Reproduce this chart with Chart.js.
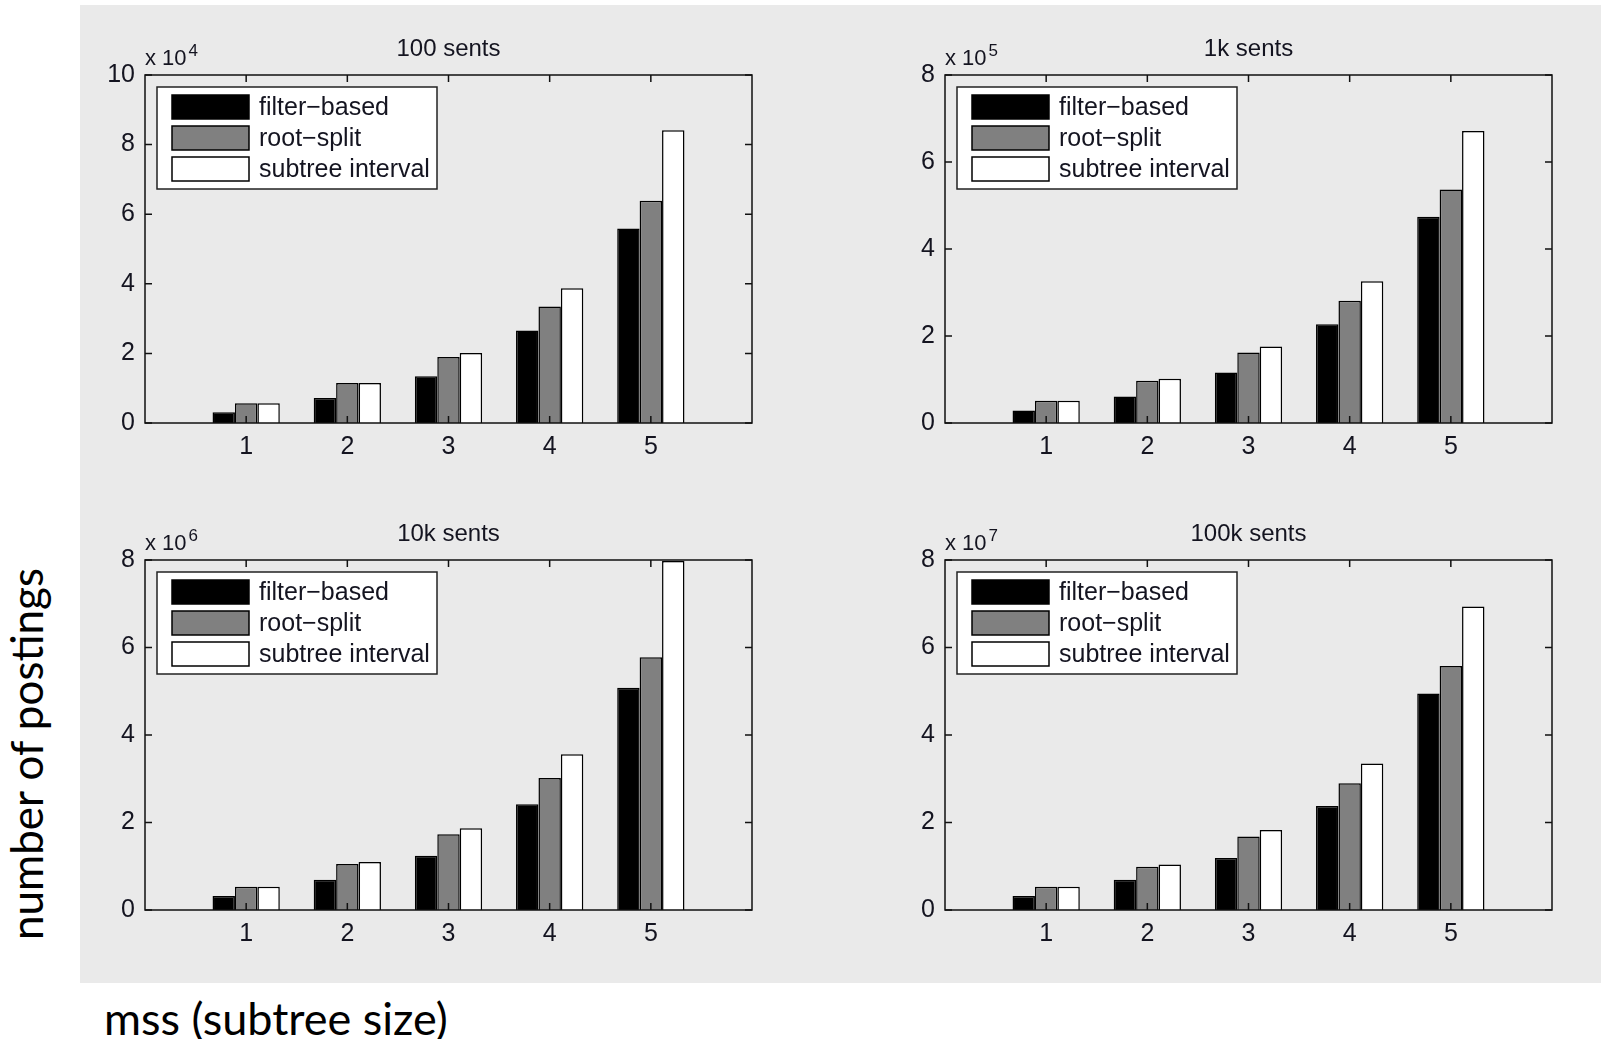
<!DOCTYPE html>
<html>
<head>
<meta charset="utf-8">
<script src="https://cdn.jsdelivr.net/npm/chart.js@4.4.1/dist/chart.umd.min.js"></script>
<style>
  html, body { margin: 0; padding: 0; background: #fff; }
  #page { position: relative; width: 1601px; height: 1039px; overflow: hidden; background: #fff; }
  #panel { position: absolute; left: 80px; top: 5px; width: 1521px; height: 978px; background: #eaeaea; }
  canvas { position: absolute; }
  .slide-label { position: absolute; font-family: Lato, sans-serif; font-size: 44px; line-height: 1; color: #000; white-space: nowrap; }
  #ylabel { left: -184px; top: 732px; width: 420px; height: 44px; text-align: center; transform: rotate(-90deg); }
  #xlabel { left: 104px; top: 996px; font-size: 45px; }
</style>
</head>
<body>
<div id="page">
  <div id="panel"></div>
  <canvas id="c100" width="697" height="478" style="left:75px;top:5px"></canvas>
  <canvas id="c1k" width="697" height="478" style="left:875px;top:5px"></canvas>
  <canvas id="c10k" width="697" height="480" style="left:75px;top:490px"></canvas>
  <canvas id="c100k" width="697" height="480" style="left:875px;top:490px"></canvas>
  <div class="slide-label" id="ylabel">number of postings</div>
  <div class="slide-label" id="xlabel">mss (subtree size)</div>
</div>
<script>
// mss values on the x axis
const categories = [1, 2, 3, 4, 5];
// matlab draws the hyphen as a minus sign
const seriesNames = ['filter\u2212based', 'root\u2212split', 'subtree interval'];
const seriesColors = ['#000000', '#808080', '#ffffff'];

// values in axis units (x 10^exp)
const filter100 = [0.31, 0.72, 1.34, 2.66, 5.59];
const root100 = [0.57, 1.15, 1.90, 3.35, 6.39];
const subtree100 = [0.57, 1.15, 2.01, 3.87, 8.41];

const filter1k = [0.29, 0.61, 1.16, 2.27, 4.74];
const root1k = [0.51, 0.97, 1.62, 2.81, 5.37];
const subtree1k = [0.51, 1.02, 1.76, 3.26, 6.71];

const filter10k = [0.32, 0.69, 1.24, 2.42, 5.08];
const root10k = [0.53, 1.05, 1.73, 3.02, 5.78];
const subtree10k = [0.53, 1.10, 1.87, 3.56, 7.98];

const filter100k = [0.32, 0.69, 1.19, 2.38, 4.95];
const root100k = [0.53, 0.99, 1.68, 2.90, 5.58];
const subtree100k = [0.53, 1.04, 1.83, 3.35, 6.94];

const titles = ['100 sents', '1k sents', '10k sents', '100k sents'];
const exponents = ['4', '5', '6', '7'];
const yMax = [10, 8, 8, 8];
const yStep = 2;

const textColor = '#141420';
const tickFont = { family: '"Liberation Sans", Arial, sans-serif', size: 25 };

// draws the matlab style box, inward ticks, title, exponent and legend
const matlabAxes = {
  id: 'matlabAxes',
  afterDatasetsDraw(chart, args, opts) {
    const { ctx, chartArea: a, scales: { x, y } } = chart;
    ctx.save();
    ctx.strokeStyle = '#111';
    ctx.lineWidth = 1.5;
    ctx.strokeRect(a.left, a.top, a.right - a.left, a.bottom - a.top);

    ctx.beginPath();
    categories.forEach((c, i) => {
      const px = x.getPixelForValue(i + 1);
      ctx.moveTo(px, a.bottom); ctx.lineTo(px, a.bottom - 7);
      ctx.moveTo(px, a.top); ctx.lineTo(px, a.top + 7);
    });
    y.ticks.forEach(t => {
      const py = y.getPixelForValue(t.value);
      ctx.moveTo(a.left, py); ctx.lineTo(a.left + 7, py);
      ctx.moveTo(a.right, py); ctx.lineTo(a.right - 7, py);
    });
    ctx.stroke();

    // title
    ctx.fillStyle = textColor;
    ctx.font = '24px "Liberation Sans", Arial, sans-serif';
    ctx.textAlign = 'center';
    ctx.textBaseline = 'middle';
    ctx.fillText(opts.title, (a.left + a.right) / 2, a.top - 26);

    // exponent
    ctx.textAlign = 'left';
    ctx.textBaseline = 'alphabetic';
    ctx.font = '22px "Liberation Sans", Arial, sans-serif';
    const base = 'x 10';
    ctx.fillText(base, a.left, a.top - 10);
    const w = ctx.measureText(base).width;
    ctx.font = '17px "Liberation Sans", Arial, sans-serif';
    ctx.fillText(opts.exponent, a.left + w + 2, a.top - 19);

    // legend box
    const lx = a.left + 12, ly = a.top + 12, lw = 280, lh = 102;
    ctx.fillStyle = '#fff';
    ctx.fillRect(lx, ly, lw, lh);
    ctx.strokeStyle = '#222';
    ctx.lineWidth = 1.5;
    ctx.strokeRect(lx, ly, lw, lh);
    ctx.font = '25px "Liberation Sans", Arial, sans-serif';
    ctx.textBaseline = 'middle';
    chart.data.datasets.forEach((ds, k) => {
      const cy = ly + 20 + k * 31;
      ctx.fillStyle = ds.backgroundColor;
      ctx.fillRect(lx + 15, cy - 12, 77, 24);
      ctx.strokeStyle = '#000';
      ctx.strokeRect(lx + 15, cy - 12, 77, 24);
      ctx.fillStyle = textColor;
      ctx.fillText(ds.label, lx + 102, cy + 1);
    });
    ctx.restore();
  }
};

const makeChart = (id, idx, series) => {
  return new Chart(document.getElementById(id), {
    type: 'bar',
    data: {
      labels: ['', ...categories.map(String), ''],
      datasets: seriesNames.map((name, k) => ({
        label: name,
        data: [null, ...series[k], null],
        backgroundColor: seriesColors[k],
        borderColor: '#000',
        borderWidth: 1.5,
        borderSkipped: 'bottom',
        categoryPercentage: 0.665,
        barPercentage: 1.0
      }))
    },
    options: {
      responsive: false,
      animation: false,
      layout: { padding: { left: 0, top: 70, right: 20, bottom: 0 } },
      plugins: {
        legend: { display: false },
        tooltip: { enabled: false },
        title: { display: false },
        matlabAxes: { title: titles[idx], exponent: exponents[idx] }
      },
      scales: {
        x: {
          offset: false,
          grid: { display: false, drawTicks: false },
          border: { display: false },
          ticks: { font: tickFont, color: textColor, padding: 9, maxRotation: 0, autoSkip: false },
          afterFit: s => { s.height = 60; }
        },
        y: {
          min: 0,
          max: yMax[idx],
          grid: { display: false, drawTicks: false },
          border: { display: false },
          ticks: { stepSize: yStep, font: tickFont, color: textColor, padding: 10 },
          afterFit: s => { s.width = 70; }
        }
      }
    },
    plugins: [matlabAxes]
  });
};

makeChart('c100', 0, [filter100, root100, subtree100]);
makeChart('c1k', 1, [filter1k, root1k, subtree1k]);
makeChart('c10k', 2, [filter10k, root10k, subtree10k]);
makeChart('c100k', 3, [filter100k, root100k, subtree100k]);
</script>
</body>
</html>
